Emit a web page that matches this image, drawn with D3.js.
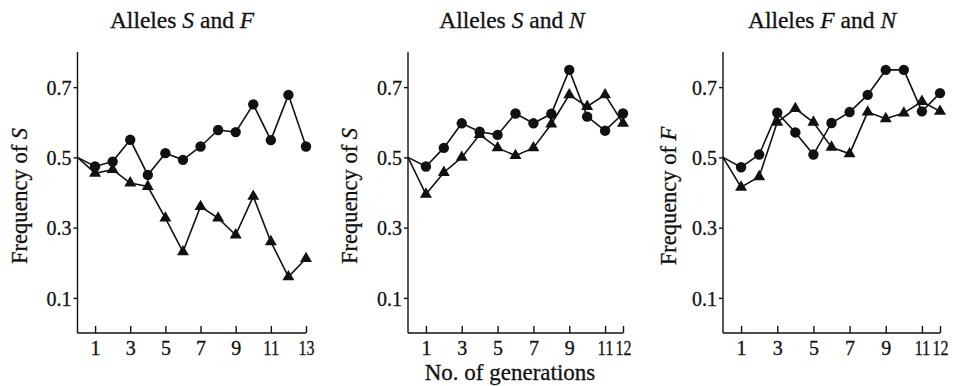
<!DOCTYPE html>
<html>
<head>
<meta charset="utf-8">
<script src="https://cdn.jsdelivr.net/npm/d3@7.9.0/dist/d3.min.js"></script>
<style>
  body { margin: 0; background: #fff; }
  svg text { font-family: "Liberation Serif", "DejaVu Serif", serif; fill: #111; stroke: #111; stroke-width: 0.3px; }
</style>
</head>
<body>
<svg id="chart" width="955" height="386"></svg>
<script>
// ---------- data ----------
const gensSF = d3.range(0, 14);   // 0..13
const gensSN = d3.range(0, 13);   // 0..12
const gensFN = d3.range(0, 13);

const sfCircle   = [0.5, 0.474, 0.488, 0.55, 0.45, 0.512, 0.493, 0.531, 0.578, 0.572, 0.651, 0.549, 0.678, 0.531];
const sfTriangle = [0.5, 0.455, 0.465, 0.427, 0.417, 0.327, 0.231, 0.36, 0.327, 0.279, 0.389, 0.26, 0.16, 0.212];

const snCircle   = [0.5, 0.474, 0.527, 0.597, 0.573, 0.564, 0.625, 0.597, 0.624, 0.749, 0.616, 0.576, 0.625];
const snTriangle = [0.5, 0.395, 0.457, 0.5, 0.565, 0.527, 0.505, 0.527, 0.595, 0.678, 0.645, 0.678, 0.597];

const fnCircle   = [0.5, 0.472, 0.508, 0.627, 0.571, 0.508, 0.598, 0.629, 0.678, 0.749, 0.749, 0.631, 0.683];
const fnTriangle = [0.5, 0.415, 0.445, 0.6, 0.639, 0.6, 0.529, 0.51, 0.629, 0.61, 0.626, 0.659, 0.631];

const yTicks = [0.1, 0.3, 0.5, 0.7];
const xTicksSF = [1, 3, 5, 7, 9, 11, 13];
const xTicks12 = [1, 3, 5, 7, 9, 11, 12];

const panels = [
  { title: ["Alleles ", "S", " and ", "F"], ylab: "S", gens: gensSF, circ: sfCircle, tri: sfTriangle,
    xTicks: xTicksSF, maxGen: 13, x0: 77.5, x1: 306, labX: 27, titleX: 182 },
  { title: ["Alleles ", "S", " and ", "N"], ylab: "S", gens: gensSN, circ: snCircle, tri: snTriangle,
    xTicks: xTicks12, maxGen: 12, x0: 408, x1: 623, labX: 357, titleX: 512 },
  { title: ["Alleles ", "F", " and ", "N"], ylab: "F", gens: gensFN, circ: fnCircle, tri: fnTriangle,
    xTicks: xTicks12, maxGen: 12, x0: 723, x1: 940, labX: 676, titleX: 822 }
];

// ---------- drawing ----------
const svg = d3.select('#chart');
const yBottom = 333, yTop = 52;
const y = d3.scaleLinear().domain([0, 0.8]).range([yBottom, yTop]);

panels.forEach(p => {
  const x = d3.scaleLinear().domain([0, p.maxGen]).range([p.x0, p.x1]);
  const g = svg.append('g');

  // title
  const t = g.append('text')
    .attr('x', p.titleX).attr('y', 28)
    .attr('text-anchor', 'middle').attr('font-size', 23.5);
  p.title.forEach((s, i) => t.append('tspan').text(s).attr('font-style', i % 2 ? 'italic' : 'normal'));

  // y axis
  const yAxis = d3.axisLeft(y).tickValues(yTicks).tickFormat(d3.format('.1f')).tickSize(4).tickPadding(2);
  const ya = g.append('g').attr('transform', `translate(${p.x0},0)`).call(yAxis);
  ya.select('.domain').attr('d', `M0,${yTop}V${yBottom}`);
  ya.selectAll('text').attr('font-size', 20).attr('dy', '0.36em');

  // x axis (ticks inward)
  const xAxis = d3.axisBottom(x).tickValues(p.xTicks).tickSize(0).tickPadding(8);
  const xa = g.append('g').attr('transform', `translate(0,${yBottom})`).call(xAxis);
  xa.select('.domain').attr('d', `M${p.x0},0H${p.x1}`);
  xa.selectAll('.tick line').attr('y2', -7);
  xa.selectAll('text').attr('font-size', 20)
    .attr('textLength', d => d > 9 ? 16 : null).attr('lengthAdjust', 'spacingAndGlyphs');
  g.selectAll('.domain, .tick line').attr('stroke', '#111').attr('stroke-width', 1.4);

  // y label
  const yl = g.append('text')
    .attr('transform', `translate(${p.labX},196) rotate(-90)`)
    .attr('text-anchor', 'middle').attr('font-size', 22.5);
  yl.append('tspan').text('Frequency of ');
  yl.append('tspan').text(p.ylab).attr('font-style', 'italic');

  const line = d3.line().x((d, i) => x(p.gens[i])).y(d => y(d));

  [p.tri, p.circ].forEach(series => {
    g.append('path').datum(series).attr('d', line)
      .attr('fill', 'none').attr('stroke', '#111').attr('stroke-width', 1.6);
  });

  g.selectAll('.tri').data(p.tri.slice(1)).enter().append('path')
    .attr('d', d3.symbol(d3.symbolTriangle, 62))
    .attr('transform', (d, i) => `translate(${x(p.gens[i + 1])},${y(d)})`)
    .attr('fill', '#111');

  g.selectAll('.circ').data(p.circ.slice(1)).enter().append('circle')
    .attr('cx', (d, i) => x(p.gens[i + 1])).attr('cy', d => y(d)).attr('r', 5.2)
    .attr('fill', '#111');
});

svg.append('text').attr('x', 510).attr('y', 380).attr('text-anchor', 'middle')
  .attr('font-size', 23).text('No. of generations');
</script>
</body>
</html>
